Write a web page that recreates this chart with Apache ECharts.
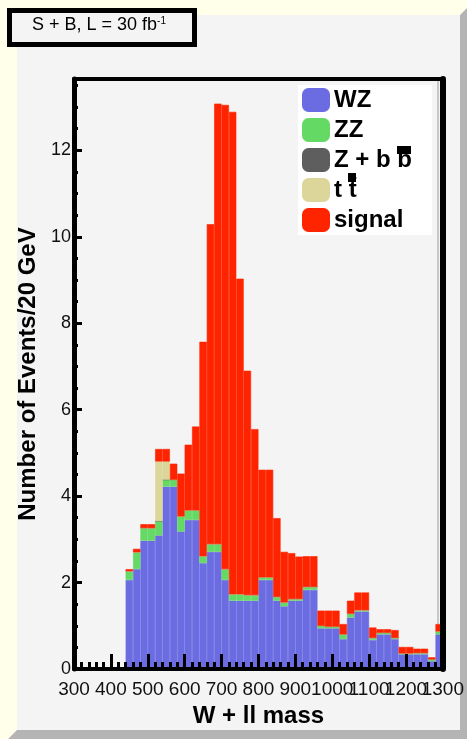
<!DOCTYPE html>
<html><head><meta charset="utf-8">
<script src="https://cdn.jsdelivr.net/npm/echarts@6/dist/echarts.min.js"></script>
<style>html,body{margin:0;padding:0;background:#ffffea;}#c{width:467px;height:739px;}</style>
</head><body><div id="c"></div>
<script>
// bin lower edges (GeV), 20 GeV bins
const binEdges = [300,320,340,360,380,400,420,440,460,480,500,520,540,560,580,600,620,640,660,680,700,720,740,760,780,800,820,840,860,880,900,920,940,960,980,1000,1020,1040,1060,1080,1100,1120,1140,1160,1180,1200,1220,1240,1260,1280];
// stacked components, events / 20 GeV
const wz = [0,0,0,0,0,0,0, 2.06,2.31,2.97,2.97,3.09,4.22,4.22,3.18,3.45,3.45, 2.45,2.71,2.71,2.06,1.58,1.58,1.58,1.58,2.06,2.06, 1.58,1.45,1.58,1.58,1.83,1.83,0.94,0.94,0.94,0.69, 1.19,1.33,1.33,0.67,0.80,0.80,0.69,0.34,0.34,0.34, 0.34,0.18,0.80];
const zz = [0,0,0,0,0,0,0, 0.20,0.39,0.29,0.29,0.33,0.16,0.16,0.35,0.22,0.22, 0.16,0.18,0.18,0.25,0.15,0.15,0.13,0.13,0.06,0.06, 0.09,0.09,0.04,0.04,0.07,0.07,0.06,0.04,0.04,0.11, 0.09,0.03,0.03,0.05,0.04,0.04,0.03,0.02,0.02,0.03, 0.03,0.04,0.07];
const zbb = [0,0,0,0,0,0,0, 0,0,0,0,0,0,0,0,0,0, 0,0,0,0,0,0,0,0,0,0, 0,0,0,0,0,0,0,0,0,0, 0,0,0,0,0,0,0,0,0,0, 0,0,0];
const ttbar = [0,0,0,0,0,0,0, 0,0,0,0,1.38,0.42,0,0,0,0, 0,0,0,0,0,0,0,0,0,0, 0,0,0,0,0,0,0,0,0,0, 0,0,0,0,0,0,0,0,0,0, 0,0,0];
const signal = [0,0,0,0,0,0,0, 0.05,0.08,0.09,0.09,0.29,0.29,0.37,0.99,1.52,1.94, 4.96,7.40,10.19,10.74,11.16,7.30,5.19,3.84,2.49,2.49, 1.82,1.17,1.06,0.98,0.71,0.71,0.35,0.37,0.37,0.24, 0.30,0.41,0.41,0.24,0.08,0.08,0.18,0.15,0.15,0.10, 0.10,0.05,0.17];
const seriesNames = ['WZ','ZZ','Z + b b\u0304','t t\u0304','signal'];
const seriesColors = ['#6c6ce2','#64d964','#5e5e5e','#dcd69b','#ff2400'];
const xTickLabels = [300,400,500,600,700,800,900,1000,1100,1200,1300];
const xRange = [300,1300];
const yRange = [0,13.65];
const xTitle = 'W + ll mass';
const yTitle = 'Number of Events/20 GeV';

const FONT = '"Liberation Sans", Arial, Helvetica, sans-serif';
const chart = echarts.init(document.getElementById('c'));
const values = [wz, zz, zbb, ttbar, signal];
const series = values.map((d, i) => ({
  name: seriesNames[i], type: 'bar', stack: 'all', data: d,
  xAxisIndex: 1, yAxisIndex: 0, barCategoryGap: '0%', barGap: '0%',
  itemStyle: { color: seriesColors[i], borderColor: seriesColors[i], borderWidth: 0.6 },
  emphasis: { disabled: true }
}));
// alternate labels between two axes so overlapping labels are all drawn, as in the reference
const oddLabels = xTickLabels.filter((v, i) => i % 2 === 0);
const evenLabels = xTickLabels.filter((v, i) => i % 2 === 1);
const labelStyle = { fontSize: 19, color: '#111', margin: 11, hideOverlap: false, fontFamily: FONT };

chart.setOption({
  animation: false,
  textStyle: { fontFamily: FONT },
  graphic: [
    { type: 'polygon', z: -20, shape: { points: [[460,15],[467,8],[467,739],[8,739],[17,730],[460,730]] }, style: { fill: '#b4b4b4' } },
    { type: 'rect', z: -20, shape: { x: 17, y: 15, width: 443, height: 715 }, style: { fill: '#f4f4f4' } },
    { type: 'rect', z: -10, shape: { x: 7, y: 8, width: 190, height: 39 }, style: { fill: '#000' } },
    { type: 'rect', z: -9, shape: { x: 12, y: 13, width: 180, height: 29 }, style: { fill: '#f4f4f4' } },
    { type: 'text', z: 20, left: 32, top: 16, style: { text: '{a|S + B, L = 30 fb}{s|-1}', rich: { a: { fontSize: 18, fontFamily: FONT, fill: '#000', lineHeight: 19 }, s: { fontSize: 10, fontFamily: FONT, fill: '#000', verticalAlign: 'top', lineHeight: 19 } } } },
    { type: 'rect', z: 30, shape: { x: 397, y: 146, width: 14, height: 8 }, style: { fill: '#000' } },
    { type: 'rect', z: 30, shape: { x: 348, y: 173, width: 8, height: 9 }, style: { fill: '#000' } }
  ],
  grid: { left: 74, right: 19, top: 79, bottom: 70 },
  legend: {
    orient: 'vertical', left: 298, top: 85, padding: [3, 20, 3, 4], itemGap: 6,
    itemWidth: 26, itemHeight: 22, icon: 'roundRect', backgroundColor: '#ffffff',
    selectedMode: false, z: 10,
    textStyle: { fontSize: 24, fontWeight: 'bold', color: '#000', fontFamily: FONT },
    data: seriesNames
  },
  xAxis: [
    { type: 'value', min: xRange[0], max: xRange[1], interval: 100, position: 'bottom', z: 5,
      axisLine: { show: true, onZero: false, lineStyle: { color: '#000', width: 4 } },
      axisTick: { show: true, inside: true, length: 15, lineStyle: { color: '#000', width: 3 } },
      minorTick: { show: true, splitNumber: 5, length: 7, lineStyle: { color: '#000', width: 3 } },
      splitLine: { show: false }, minorSplitLine: { show: false },
      axisLabel: Object.assign({}, labelStyle, { showMinLabel: true, showMaxLabel: true, formatter: v => oddLabels.includes(v) ? String(v) : '' }),
      name: xTitle, nameLocation: 'middle', nameGap: 33,
      nameTextStyle: { fontSize: 24, fontWeight: 'bold', color: '#000', fontFamily: FONT } },
    { type: 'category', data: binEdges, position: 'top', z: 5, boundaryGap: true,
      axisLine: { show: true, onZero: false, lineStyle: { color: '#000', width: 4 } },
      axisTick: { show: false }, axisLabel: { show: false }, splitLine: { show: false } },
    { type: 'value', min: xRange[0], max: xRange[1], interval: 100, position: 'bottom', z: 5,
      axisLine: { show: false, onZero: false }, axisTick: { show: false }, splitLine: { show: false },
      axisLabel: Object.assign({}, labelStyle, { formatter: v => evenLabels.includes(v) ? String(v) : '' }) }
  ],
  yAxis: [
    { type: 'value', min: yRange[0], max: yRange[1], interval: 2, position: 'left', z: 5,
      axisLine: { show: true, onZero: false, lineStyle: { color: '#000', width: 5 } },
      axisTick: { show: true, inside: true, length: 8, lineStyle: { color: '#000', width: 3 } },
      axisLabel: { fontSize: 18, color: '#111', margin: 3, showMaxLabel: false, fontFamily: FONT },
      splitLine: { show: false },
      name: yTitle, nameLocation: 'middle', nameGap: 32,
      nameTextStyle: { fontSize: 24, fontWeight: 'bold', color: '#000', fontFamily: FONT } },
    { type: 'value', min: yRange[0], max: yRange[1], interval: 0.5, position: 'left', z: 5,
      axisLine: { show: false },
      axisTick: { show: true, inside: true, length: 4, lineStyle: { color: '#000', width: 3 } },
      axisLabel: { show: false }, splitLine: { show: false } },
    { type: 'value', min: yRange[0], max: yRange[1], position: 'right', z: 5,
      axisLine: { show: true, onZero: false, lineStyle: { color: '#000', width: 6 } },
      axisTick: { show: false }, axisLabel: { show: false }, splitLine: { show: false } },
    { type: 'value', min: yRange[0], max: yRange[1], position: 'right', offset: -5, z: 1,
      axisLine: { show: true, onZero: false, lineStyle: { color: '#c8c8c8', width: 2 } },
      axisTick: { show: false }, axisLabel: { show: false }, splitLine: { show: false } }
  ],
  series: series
});
</script></body></html>
